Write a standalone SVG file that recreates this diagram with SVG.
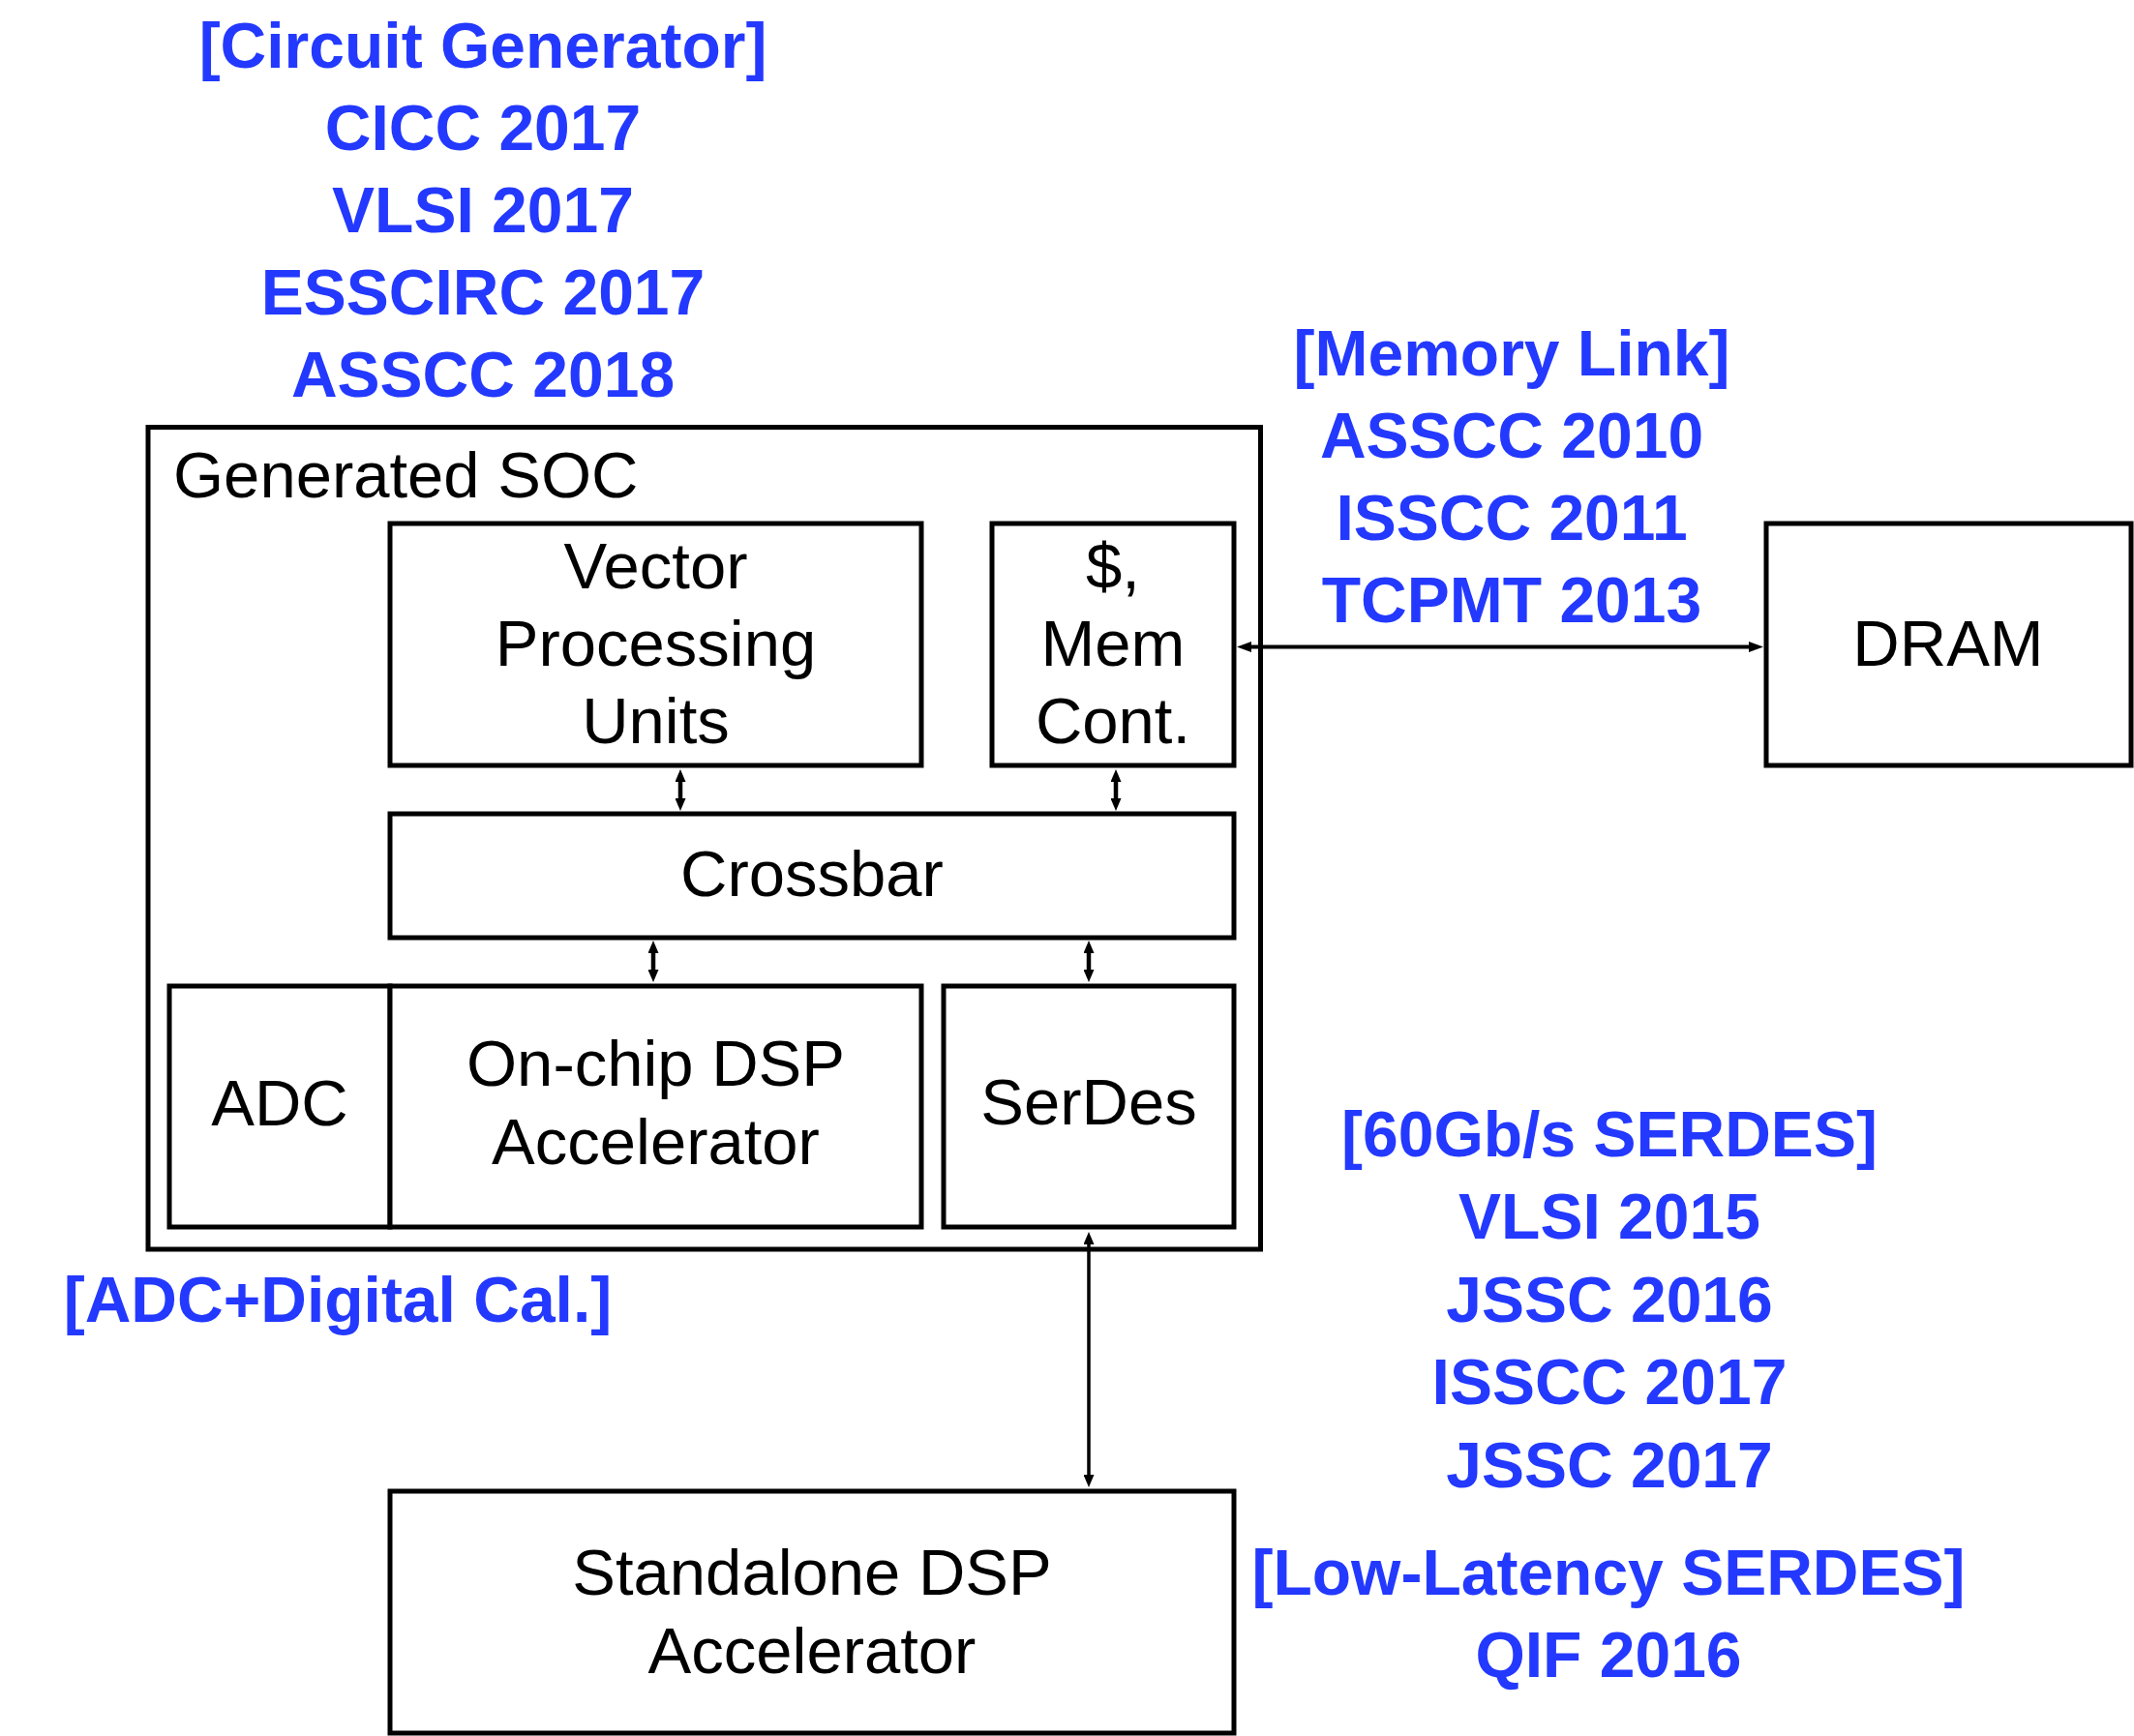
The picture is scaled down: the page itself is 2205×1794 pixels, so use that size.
<svg xmlns="http://www.w3.org/2000/svg" width="2205" height="1794" viewBox="0 0 2205 1794">
<style>
.box{fill:#fff;stroke:#000;stroke-width:5}
.lbl{font-family:"Liberation Sans",Arial,Helvetica,sans-serif;font-size:67px;fill:#000;text-anchor:middle}
.ref{font-family:"Liberation Sans",Arial,Helvetica,sans-serif;font-size:66px;font-weight:bold;fill:#2339FF;text-anchor:middle}
.con{stroke:#000;fill:none}
</style>
<defs>
<marker id="ah" viewBox="0 0 15 11" markerWidth="15" markerHeight="11" markerUnits="userSpaceOnUse" refX="1" refY="5.5" orient="auto-start-reverse">
<path d="M0,0 L15,5.5 L0,11 Z" fill="#000"/>
</marker>
<marker id="ahs" viewBox="0 0 13 11" markerWidth="13" markerHeight="11" markerUnits="userSpaceOnUse" refX="1" refY="5.5" orient="auto-start-reverse">
<path d="M0,0 L13,5.5 L0,11 Z" fill="#000"/>
</marker>
</defs>
<rect width="2205" height="1794" fill="#fff"/>

<g id="soc">
<rect class="box" x="153" y="441.5" width="1149.5" height="849.5"/>
<text class="lbl" x="179" y="514" style="text-anchor:start">Generated SOC</text>
</g>
<g id="vpu">
<rect class="box" x="403" y="541" width="549" height="250"/>
<text class="lbl" x="677.5" y="608">Vector</text>
<text class="lbl" x="677.5" y="688">Processing</text>
<text class="lbl" x="677.5" y="768">Units</text>
</g>
<g id="memcont">
<rect class="box" x="1025" y="541" width="250" height="250"/>
<text class="lbl" x="1150" y="608">$,</text>
<text class="lbl" x="1150" y="688">Mem</text>
<text class="lbl" x="1150" y="768">Cont.</text>
</g>
<g id="crossbar">
<rect class="box" x="403" y="841" width="872" height="128"/>
<text class="lbl" x="839" y="926">Crossbar</text>
</g>
<g id="adc">
<rect class="box" x="175" y="1019" width="228" height="249"/>
<text class="lbl" x="289" y="1163">ADC</text>
</g>
<g id="dsp">
<rect class="box" x="403" y="1019" width="549" height="249"/>
<text class="lbl" x="677.5" y="1122">On-chip DSP</text>
<text class="lbl" x="677.5" y="1203">Accelerator</text>
</g>
<g id="serdes">
<rect class="box" x="975" y="1019" width="300" height="249"/>
<text class="lbl" x="1125" y="1162">SerDes</text>
</g>
<g id="dram">
<rect class="box" x="1825" y="541" width="377" height="250"/>
<text class="lbl" x="2013" y="688">DRAM</text>
</g>
<g id="standalone">
<rect class="box" x="403" y="1541" width="872" height="250"/>
<text class="lbl" x="839" y="1648">Standalone DSP</text>
<text class="lbl" x="839" y="1729">Accelerator</text>
</g>

<g id="connectors">
<line class="con" x1="1292" y1="668.5" x2="1808" y2="668.5" stroke-width="4" marker-start="url(#ah)" marker-end="url(#ah)"/>
<line class="con" x1="703" y1="807" x2="703" y2="826" stroke-width="4.5" marker-start="url(#ahs)" marker-end="url(#ahs)"/>
<line class="con" x1="1153" y1="807" x2="1153" y2="826" stroke-width="4.5" marker-start="url(#ahs)" marker-end="url(#ahs)"/>
<line class="con" x1="675" y1="984" x2="675" y2="1003" stroke-width="4.5" marker-start="url(#ahs)" marker-end="url(#ahs)"/>
<line class="con" x1="1125" y1="984" x2="1125" y2="1003" stroke-width="4.5" marker-start="url(#ahs)" marker-end="url(#ahs)"/>
<line class="con" x1="1125" y1="1285" x2="1125" y2="1525" stroke-width="3.5" marker-start="url(#ahs)" marker-end="url(#ahs)"/>
</g>

<g id="ref-circuit-generator">
<text class="ref" x="499" y="70">[Circuit Generator]</text>
<text class="ref" x="499" y="155">CICC 2017</text>
<text class="ref" x="499" y="240">VLSI 2017</text>
<text class="ref" x="499" y="325">ESSCIRC 2017</text>
<text class="ref" x="499" y="410">ASSCC 2018</text>
</g>
<g id="ref-memory-link">
<text class="ref" x="1562" y="388">[Memory Link]</text>
<text class="ref" x="1562" y="473">ASSCC 2010</text>
<text class="ref" x="1562" y="558">ISSCC 2011</text>
<text class="ref" x="1562" y="643">TCPMT 2013</text>
</g>
<g id="ref-adc">
<text class="ref" x="349" y="1366">[ADC+Digital Cal.]</text>
</g>
<g id="ref-serdes">
<text class="ref" x="1663" y="1195">[60Gb/s SERDES]</text>
<text class="ref" x="1663" y="1280">VLSI 2015</text>
<text class="ref" x="1663" y="1366">JSSC 2016</text>
<text class="ref" x="1663" y="1451">ISSCC 2017</text>
<text class="ref" x="1663" y="1537">JSSC 2017</text>
</g>
<g id="ref-low-latency">
<text class="ref" x="1662" y="1648">[Low-Latency SERDES]</text>
<text class="ref" x="1662" y="1733">QIF 2016</text>
</g>
</svg>
